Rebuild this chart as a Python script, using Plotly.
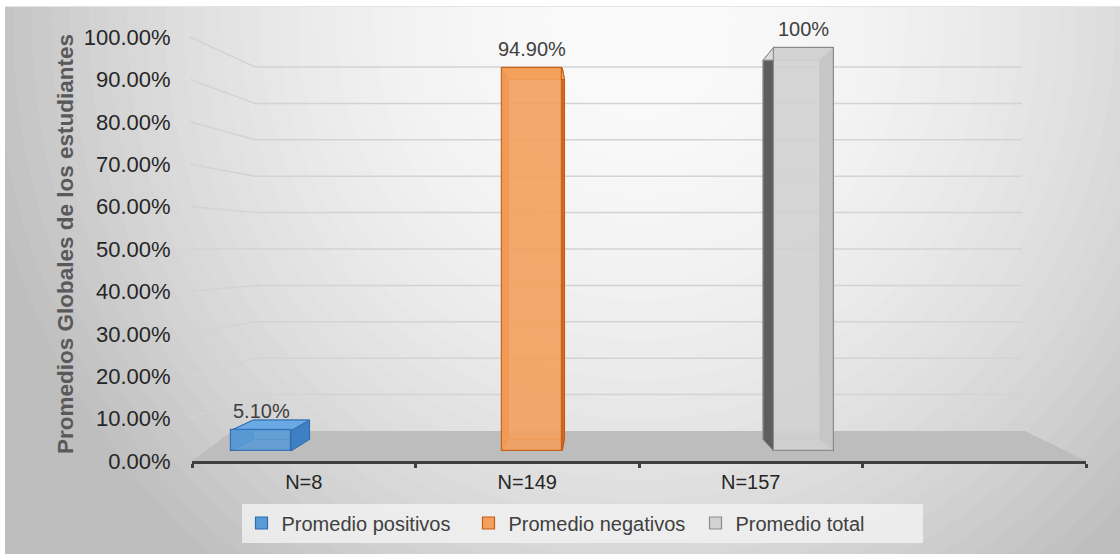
import plotly.graph_objects as go

W, H = 1120, 554

# ---- data -------------------------------------------------------------
categories = ['N=8', 'N=149', 'N=157']
series_names = ['Promedio positivos', 'Promedio negativos', 'Promedio total']
values = [0.051, 0.949, 1.0]
value_labels = ['5.10%', '94.90%', '100%']
y_ticks = [0.0, 0.1, 0.2, 0.3, 0.4, 0.5, 0.6, 0.7, 0.8, 0.9, 1.0]
y_title = 'Promedios Globales de los estudiantes'

# ---- styling ----------------------------------------------------------
FONT = 'Liberation Sans, Arial, sans-serif'
face_colors = ['#5b9bd5', '#f4a05c', '#d2d2d2']
side_colors = ['#3f7fc4', '#d56c22', '#5e5e5e']
top_colors = ['#6aaae4', '#f6ac6e', '#dcdcdc']
edge_colors = ['#2e6db0', '#c55a11', '#8a8a8a']


def px_to_paper_x(px):
    return px / W


def px_to_paper_y(py):
    return 1 - py / H


def span_range(v0, p0, v1, p1, lo, hi):
    """Axis range so that value v0 sits at pixel p0 and v1 at p1,
    for an axis whose domain runs from pixel lo to pixel hi."""
    k = (v1 - v0) / (p1 - p0)
    return [v0 + (lo - p0) * k, v0 + (hi - p0) * k]


# front plane: the visible value axis and the category axis
X_LEFT_PX, X_RIGHT_PX = 192, 1086
FRONT_ZERO_PX, FRONT_FULL_PX = 461, 37
x_range = [-0.5, 3.5]                       # four slots, last one empty
y_domain = [px_to_paper_y(FRONT_ZERO_PX), 1]
y_range = span_range(0, FRONT_ZERO_PX, 1, FRONT_FULL_PX, FRONT_ZERO_PX, 0)

# plane in which the columns stand
BAR_CENTER0_PX, BAR_STEP_PX = 261, 271.25
BAR_ZERO_PX, BAR_FULL_PX = 451, 47.5
bar_x_range = span_range(0, BAR_CENTER0_PX, 1, BAR_CENTER0_PX + BAR_STEP_PX,
                         X_LEFT_PX, X_RIGHT_PX)
bar_y_range = span_range(0, BAR_ZERO_PX, 1, BAR_FULL_PX, FRONT_ZERO_PX, 0)
BAR_HALF = 30 / BAR_STEP_PX

# perspective used for the depth of the columns (in column-plane units)
VP = ((600 - BAR_CENTER0_PX) / BAR_STEP_PX, (BAR_ZERO_PX - 258) / (BAR_ZERO_PX - BAR_FULL_PX))
DEPTH = 0.94

# back wall
WALL_ZERO_PX, WALL_FULL_PX = 431, 67
WALL_LEFT_PX, WALL_RIGHT_PX = 255, 1022
SIDE_FRONT_PX = 190


def front_py(v):
    return FRONT_ZERO_PX + (FRONT_FULL_PX - FRONT_ZERO_PX) * v


def wall_py(v):
    return WALL_ZERO_PX + (WALL_FULL_PX - WALL_ZERO_PX) * v


def back(pt):
    return (VP[0] + DEPTH * (pt[0] - VP[0]), VP[1] + DEPTH * (pt[1] - VP[1]))


def shade(r):
    g = max(190, int(round(250 - 75 * r * r)))
    return 'rgb(%d,%d,%d)' % (g, g, g)


shapes = []

# radial background: base fill, then nested ellipses getting lighter inward
shapes.append(dict(type='rect', xref='paper', yref='paper', layer='below',
                   x0=0, x1=1, y0=0, y1=1, fillcolor=shade(1.2), line=dict(width=0)))
cx, cy, rx, ry = 640, 20, 760, 800
steps = 44
for k in range(steps):
    r = 1.1 * (1 - k / steps)
    shapes.append(dict(type='circle', xref='paper', yref='paper', layer='below',
                       x0=px_to_paper_x(cx - rx * r), x1=px_to_paper_x(cx + rx * r),
                       y0=px_to_paper_y(cy + ry * r), y1=px_to_paper_y(cy - ry * r),
                       fillcolor=shade(r), line=dict(width=0)))
# outer white margin of the chart area
shapes.append(dict(type='rect', xref='paper', yref='paper', layer='below',
                   x0=-0.01, x1=1.01, y0=px_to_paper_y(6), y1=1.05,
                   fillcolor='white', line=dict(width=0)))
shapes.append(dict(type='rect', xref='paper', yref='paper', layer='below',
                   x0=-0.01, x1=px_to_paper_x(5), y0=-0.05, y1=1.05,
                   fillcolor='white', line=dict(width=0)))
shapes.append(dict(type='line', xref='paper', yref='paper', layer='below',
                   x0=px_to_paper_x(5), x1=1, y0=px_to_paper_y(6.5), y1=px_to_paper_y(6.5),
                   line=dict(color='#e4e4e4', width=1)))

# floor
floor = [(X_LEFT_PX, FRONT_ZERO_PX), (X_RIGHT_PX, FRONT_ZERO_PX),
         (1025, WALL_ZERO_PX), (232, WALL_ZERO_PX)]
path = 'M ' + ' L '.join('%.5f %.5f' % (px_to_paper_x(a), px_to_paper_y(b)) for a, b in floor) + ' Z'
shapes.append(dict(type='path', xref='paper', yref='paper', layer='below', path=path,
                   fillcolor='#bdbdbd', line=dict(width=0)))

# gridlines on the side and back walls
for v in y_ticks[1:]:
    pts = [(SIDE_FRONT_PX, front_py(v)), (WALL_LEFT_PX, wall_py(v)), (WALL_RIGHT_PX, wall_py(v))]
    path = 'M ' + ' L '.join('%.5f %.5f' % (px_to_paper_x(a), px_to_paper_y(b)) for a, b in pts)
    shapes.append(dict(type='path', xref='paper', yref='paper', layer='below', path=path,
                       line=dict(color='#d3d3d3', width=1.5)))

fig = go.Figure()

# category anchors on the front axis (invisible; they set up the x/y subplot)
fig.add_trace(go.Scatter(x=list(range(len(categories))), y=[0] * len(categories),
                         mode='markers', marker=dict(opacity=0, size=1),
                         hoverinfo='skip', showlegend=False))

# depth faces of each column
for i, v in enumerate(values):
    x0, x1 = i - BAR_HALF, i + BAR_HALF
    f = [(x0, 0), (x1, 0), (x1, v), (x0, v)]
    b = [back(p) for p in f]
    faces = [
        ([b[0], b[1], b[2], b[3]], 'rgba(0,0,0,0)'),        # back
        ([f[0], f[3], b[3], b[0]], side_colors[i]),         # left
        ([f[1], f[2], b[2], b[1]], side_colors[i]),         # right
        ([f[3], f[2], b[2], b[3]], top_colors[i]),          # top
    ]
    for pts, fillc in faces:
        xs = [p[0] for p in pts] + [pts[0][0]]
        ys = [p[1] for p in pts] + [pts[0][1]]
        fig.add_trace(go.Scatter(x=xs, y=ys, xaxis='x2', yaxis='y2', mode='lines',
                                 fill='toself', fillcolor=fillc,
                                 line=dict(color=edge_colors[i], width=1),
                                 hoverinfo='skip', showlegend=False))

# front faces of the columns
for i, v in enumerate(values):
    fig.add_trace(go.Bar(x=[i], y=[v], name=series_names[i], xaxis='x3', yaxis='y3',
                         width=2 * BAR_HALF, marker=dict(color=face_colors[i], opacity=0.9,
                                                        line=dict(color=edge_colors[i], width=1.2)),
                         hovertemplate='%{y:.2%}<extra>' + series_names[i] + '</extra>'))

annotations = []
for i, v in enumerate(values):
    annotations.append(dict(x=i, y=v, xref='x3', yref='y3', text=value_labels[i],
                            showarrow=False, yshift=19,
                            font=dict(family=FONT, size=20, color='#404040')))
annotations.append(dict(x=px_to_paper_x(65), y=px_to_paper_y(244), xref='paper', yref='paper',
                        xanchor='center', yanchor='middle',
                        text='<b>' + y_title + '</b>', textangle=-90, showarrow=False,
                        font=dict(family=FONT, size=22.5, color='#595959')))

hidden = dict(visible=False, fixedrange=True, showgrid=False, zeroline=False)

fig.update_layout(
    width=W, height=H,
    margin=dict(l=0, r=0, t=0, b=0, autoexpand=False),
    paper_bgcolor='white', plot_bgcolor='rgba(0,0,0,0)',
    font=dict(family=FONT, color='#262626'),
    shapes=shapes, annotations=annotations,
    barmode='overlay', bargap=0,
    showlegend=True,
    legend=dict(orientation='h', x=px_to_paper_x(582), xanchor='center',
                y=px_to_paper_y(523), yanchor='middle',
                bgcolor='rgba(242,242,242,0.8)', itemwidth=30,
                entrywidth=182, font=dict(family=FONT, size=20, color='#404040')),
    xaxis=dict(domain=[px_to_paper_x(X_LEFT_PX), px_to_paper_x(X_RIGHT_PX)],
               range=x_range, anchor='y',
               showline=True, linecolor='#404040', linewidth=2.5,
               tickmode='array', tickvals=list(range(len(categories))), ticktext=categories,
               ticks='outside', ticklen=1, tickcolor='rgba(0,0,0,0)',
               minor=dict(tickmode='array', tickvals=[-0.5, 0.5, 1.5, 2.5, 3.5],
                          ticks='outside', ticklen=4, tickwidth=2.5, tickcolor='#404040'),
               tickfont=dict(family=FONT, size=20, color='#262626'),
               showgrid=False, zeroline=False, fixedrange=True),
    yaxis=dict(domain=y_domain, range=y_range, anchor='x',
               tickmode='array', tickvals=y_ticks, tickformat='.2%',
               ticks='outside', ticklen=16, tickcolor='rgba(0,0,0,0)',
               tickfont=dict(family=FONT, size=22, color='#262626'),
               showline=False, showgrid=False, zeroline=False, fixedrange=True),
    xaxis2=dict(overlaying='x', anchor='y2', range=bar_x_range, **hidden),
    yaxis2=dict(overlaying='y', anchor='x2', range=bar_y_range, **hidden),
    xaxis3=dict(overlaying='x', anchor='y3', range=bar_x_range, **hidden),
    yaxis3=dict(overlaying='y', anchor='x3', range=bar_y_range, **hidden),
)

fig.write_html('out.html')
